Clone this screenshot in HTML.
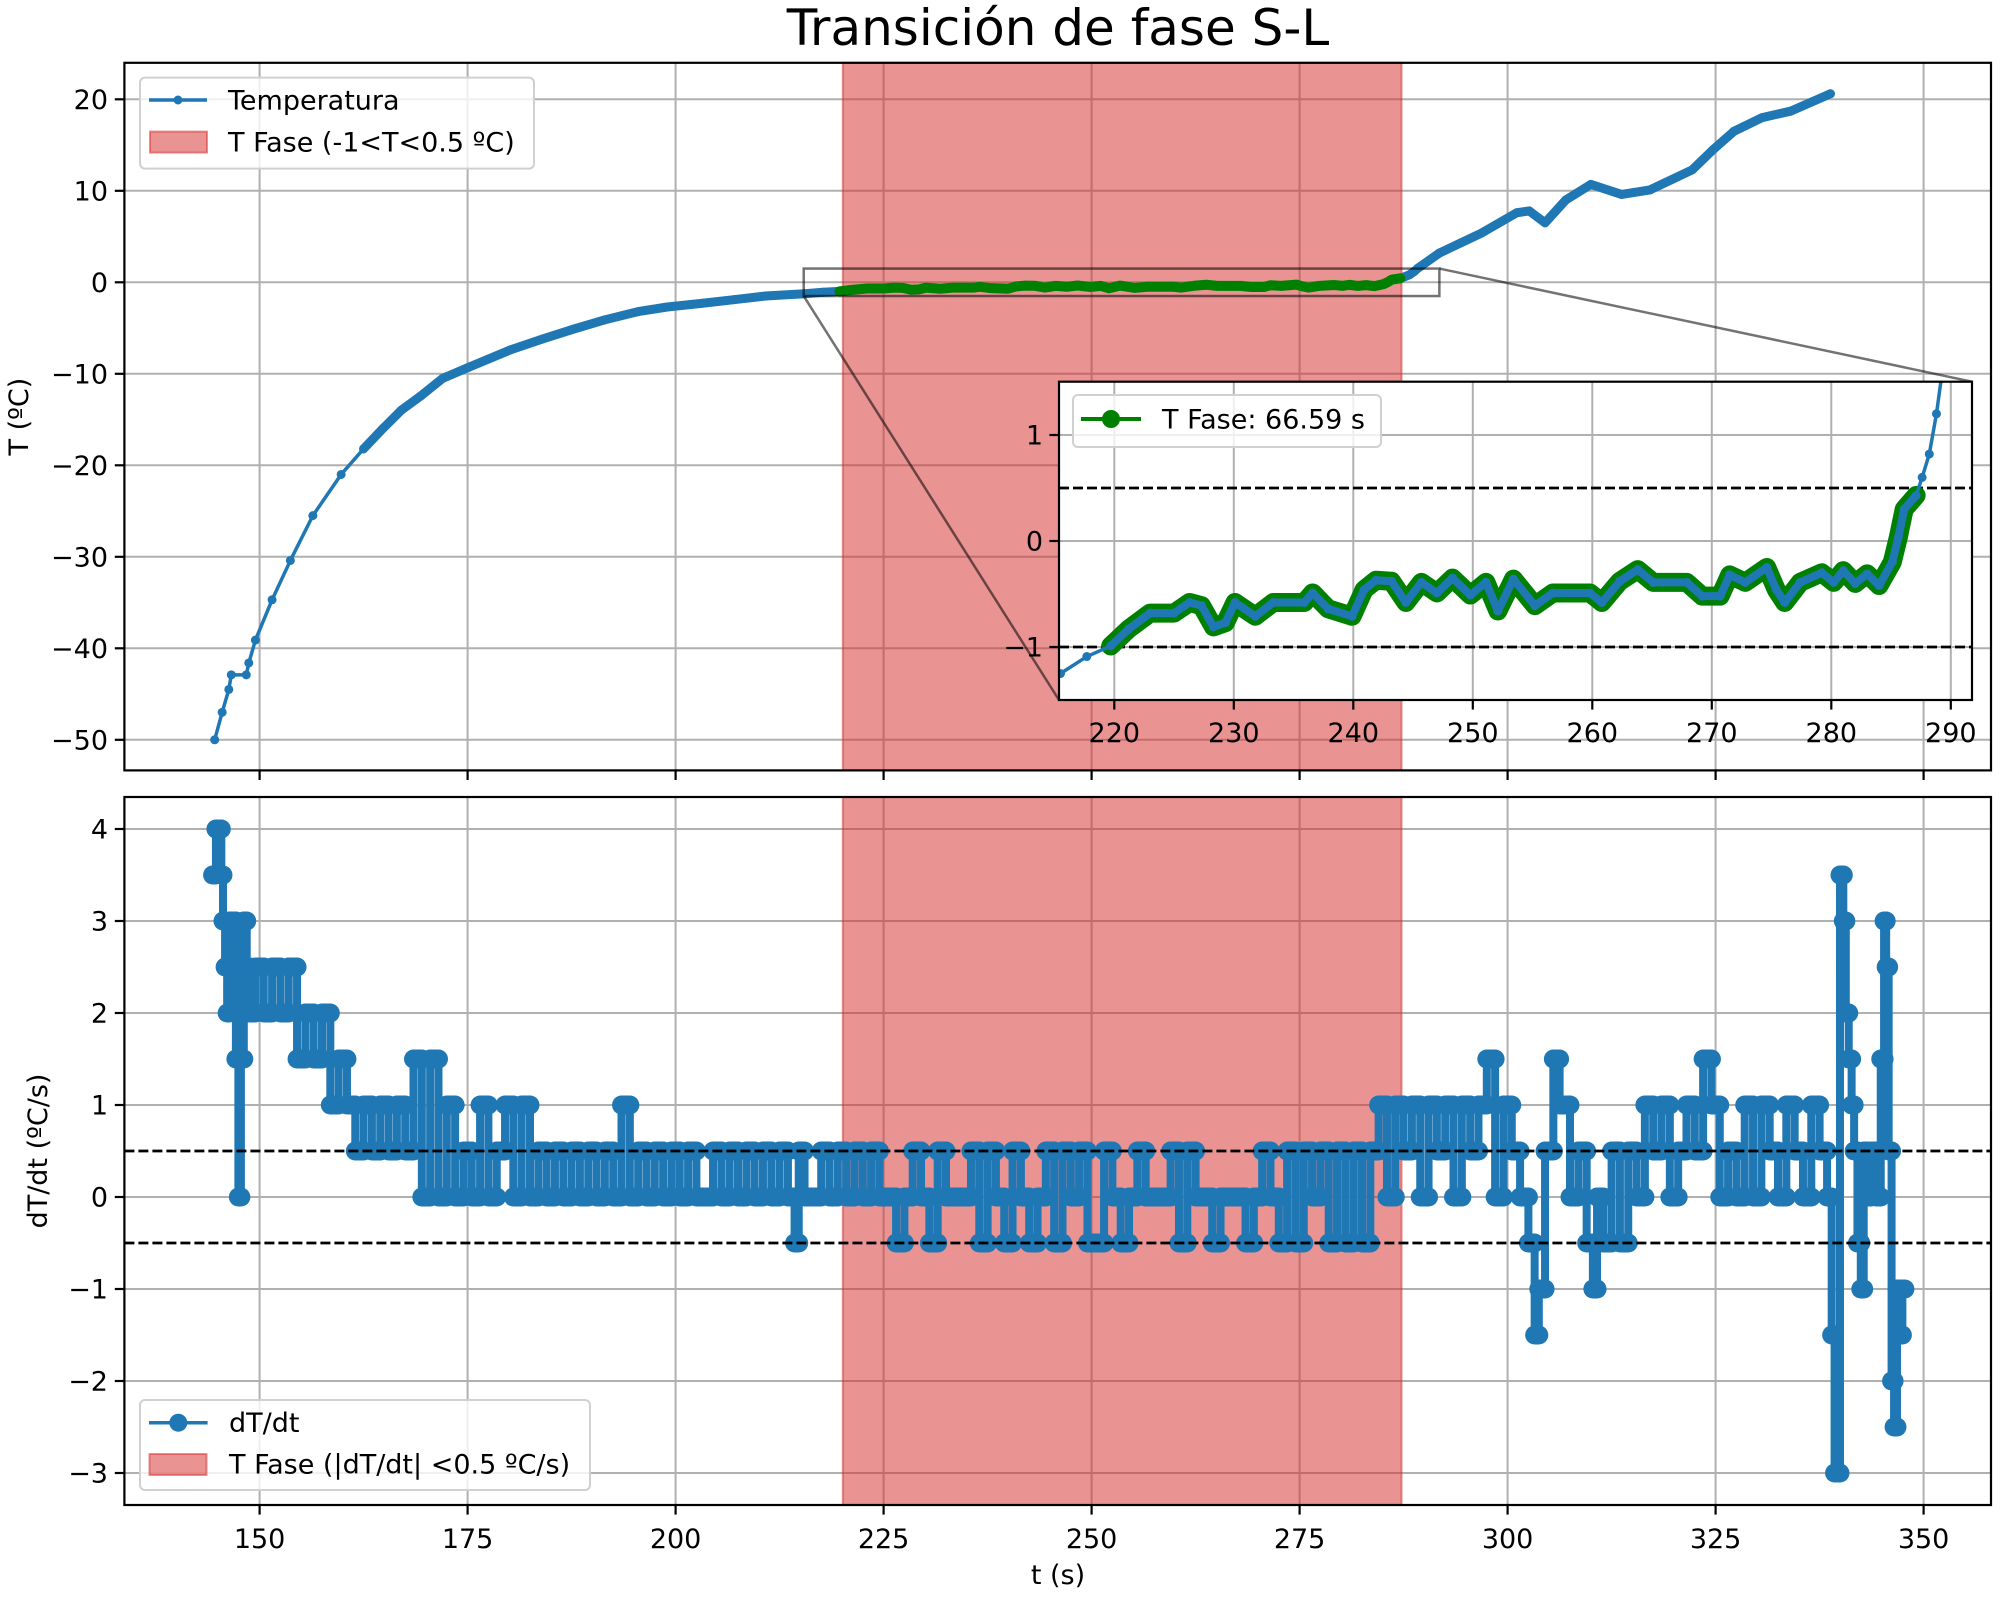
<!DOCTYPE html>
<html><head><meta charset="utf-8"><style>
html,body{margin:0;padding:0;background:#fff;width:2000px;height:1600px;overflow:hidden;}
svg{display:block;overflow:hidden;font-family:"DejaVu Sans","Liberation Sans",sans-serif;}
</style></head><body>
<svg id="fig" xmlns="http://www.w3.org/2000/svg" width="2000" height="1600" viewBox="0 0 2000 1600">
<defs>
<clipPath id="clipTop"><rect x="124.4" y="62.8" width="1866.6" height="707.6"/></clipPath>
<clipPath id="clipBot"><rect x="124.4" y="797" width="1866.6" height="708"/></clipPath>
<clipPath id="clipIn"><rect x="1059" y="381.7" width="913" height="318.3"/></clipPath>
</defs>
<text x="1058" y="45" font-size="50" text-anchor="middle">Transición de fase S-L</text>
</svg>
<script>
// ---------- data ----------
const tempTimes = [144.6,145.5,146.3,146.6,148.4,148.7,149.5,151.5,153.7,156.4,159.8,162.5,164.8,167,169.4,172,175.1,180.1,184,187.8,191.5,195.5,199,203.1,207,210.8,215.5,217.7,219.7,221.2,223,225,226.3,227.3,228.3,229.3,230.1,231.8,233.3,235.9,236.6,237.9,239.9,240.9,241.9,243.2,244.4,245.7,247,248.3,249.8,251.1,252.1,253.4,255.2,256.7,259.8,260.8,262.3,263.8,265.1,267.9,269.2,270.7,271.5,272.8,274.6,275.4,276.1,277.4,279.2,280.2,281,282,283,284,285.1,285.6,286.1,287.1,287.6,288.2,288.8,289.2,291.8,296.9,301.1,302.6,304.5,307,310,313.7,317.1,322.2,324.7,327.2,330.6,334,338.8];
const tempValues = [-50,-47,-44.5,-42.9,-42.9,-41.6,-39.1,-34.7,-30.4,-25.5,-21,-18.2,-16,-14,-12.4,-10.5,-9.3,-7.4,-6.2,-5.1,-4.1,-3.2,-2.7,-2.3,-1.9,-1.5,-1.25,-1.09,-0.99,-0.83,-0.68,-0.68,-0.58,-0.61,-0.81,-0.77,-0.58,-0.71,-0.58,-0.58,-0.49,-0.64,-0.71,-0.46,-0.37,-0.38,-0.58,-0.39,-0.49,-0.35,-0.51,-0.39,-0.66,-0.36,-0.61,-0.49,-0.49,-0.58,-0.38,-0.27,-0.39,-0.39,-0.52,-0.52,-0.32,-0.39,-0.25,-0.46,-0.58,-0.39,-0.30,-0.39,-0.28,-0.40,-0.31,-0.42,-0.20,0.03,0.30,0.43,0.60,0.82,1.2,1.53,3.2,5.4,7.6,7.8,6.5,9.0,10.7,9.6,10.1,12.3,14.5,16.5,18.0,18.7,20.6];
const phaseStart = 220.1;
const phaseEnd = 287.25;
const dtTimes = [
144.5,145,145.3,145.5,145.7,146,146.2,146.5,147,147.3,147.6,147.9,148.3,148.6,149,
150,151,152,153,154,155,156,157,158,159,160,161,162,163,164,165,166,167,168,169,170,171,172,173,174,175,176,177,178,179,180,181,182,183,
184,185,186,187,188,189,190,191,192,193,194,195,196,197,198,199,200,201,202,203,204,205,206,207,208,209,210,211,212,213,214,214.6,
215,216,217,218,219,220,221,222,223,224,225,226,227,228,229,230,231,232,233,234,235,236,237,238,239,240,241,242,243,244,245,246,247,248,249,
250,251,252,253,254,255,256,257,258,259,260,261,262,263,264,265,266,267,268,269,270,271,272,273,274,275,276,277,278,279,280,281,282,283,284,
285,286,287,288,289,290,291,292,293,294,295,296,297,298,299,300,301,302,303,303.5,304,305,306,306.5,307,308,309,310,310.5,311,
312,313,314,315,316,317,318,319,320,321,322,323,324,325,326,327,328,329,330,331,332,333,334,335,336,337,338,
338.8,339.1,339.5,339.7,340.2,340.5,340.8,341.2,341.5,341.8,342.3,342.6,343,343.4,344,344.6,345.1,345.4,345.6,346,346.3,346.6,347,347.3,347.6];
const dtValues = [
3.5,4,4,3.5,3,2.5,2,3,3,1.5,0,1.5,3,2.5,2,
2.5,2,2.5,2,2.5,1.5,2,1.5,2,1,1.5,1,0.5,1,0.5,1,0.5,1,0.5,1.5,0,1.5,0,1,0,0.5,0,1,0,0.5,1,0,1,0,
0.5,0,0.5,0,0.5,0,0.5,0,0.5,0,1,0,0.5,0,0.5,0,0.5,0,0.5,0,0,0.5,0,0.5,0,0.5,0,0.5,0,0.5,0,-0.5,
0.5,0,0,0.5,0,0.5,0,0.5,0,0.5,0,0,-0.5,0,0.5,0,-0.5,0.5,0,0,0,0.5,-0.5,0.5,0,-0.5,0.5,0,-0.5,0,0.5,-0.5,0.5,0,0.5,
-0.5,-0.5,0.5,0,-0.5,0,0.5,0,0,0,0.5,-0.5,0.5,0,0,-0.5,0,0,0,-0.5,0,0.5,0,-0.5,0.5,-0.5,0.5,0,0.5,-0.5,0.5,-0.5,0.5,-0.5,0.5,
1,0,1,0.5,1,0,1,0.5,1,0,1,0.5,1,1.5,0,1,0.5,0,-0.5,-1.5,-1,0.5,1.5,1,1,0,0.5,-0.5,-1,0,
-0.5,0.5,-0.5,0.5,0,1,0.5,1,0,0.5,1,0.5,1.5,1,0,0.5,0,1,0,1,0.5,0,1,0.5,0,1,0.5,
0,-1.5,-3,-3,3.5,3,2,1.5,1,0.5,-0.5,-1,0.5,0,0.5,0,1.5,3,2.5,0.5,-2,-2.5,-1,-1.5,-1];
const xTicks = [150,175,200,225,250,275,300,325,350];
const topYTicks = [-50,-40,-30,-20,-10,0,10,20];
const botYTicks = [-3,-2,-1,0,1,2,3,4];
const inXTicks = [220,230,240,250,260,270,280,290];
const inYTicks = [-1,0,1];
const phaseBand = [-1,0.5];
const rateBand = [-0.5,0.5];

// ---------- scales ----------
const X = t => 259.6 + (t-150)*8.32;
const YT = v => 282.3 - v*9.15;
const YB = v => 1197 - v*92;
const XI = t => 1114.3 + (t-220)*11.95;
const YI = v => 541 - v*106;
const inTMin = 215.4, inTMax = 291.8, inVMin = -1.5, inVMax = 1.5;

const NS = 'http://www.w3.org/2000/svg';
const svg = document.getElementById('fig');
function mk(tag, attrs, parent){ const e=document.createElementNS(NS,tag); for(const k in attrs) e.setAttribute(k,attrs[k]); (parent||svg).appendChild(e); return e; }
function fmt(v){ return v<0 ? '\u2212'+Math.abs(v) : String(v); }
const BLUE='#1f77b4', GREEN='#008000', GRID='#b0b0b0';

// ---------- top axes ----------
const gTop = mk('g',{});


for(const t of xTicks){ const l=mk('line',{x1:X(t),x2:X(t),y1:62.8,y2:770.4,stroke:GRID,'stroke-width':2},gTop);

 }
for(const v of topYTicks){ const l=mk('line',{x1:124.4,x2:1991,y1:YT(v),y2:YT(v),stroke:GRID,'stroke-width':2},gTop);

 }
const spanTop = mk('rect',{x:X(phaseStart),y:62.8,width:X(phaseEnd)-X(phaseStart),height:707.6,fill:'rgba(214,39,40,0.5)',stroke:'rgba(214,39,40,0.5)','stroke-width':2},gTop);


const cTop = mk('g',{'clip-path':'url(#clipTop)'},gTop);


const tempLine = mk('polyline',{points:tempTimes.map((t,i)=>X(t)+','+YT(tempValues[i])).join(' '),fill:'none',stroke:BLUE,'stroke-width':3.5,'stroke-linejoin':'round'},cTop);


const denseIdx = tempTimes.map((t,i)=>i).filter(i=>tempTimes[i]>=162);
const tempDense = mk('polyline',{points:denseIdx.map(i=>X(tempTimes[i])+','+YT(tempValues[i])).join(' '),fill:'none',stroke:BLUE,'stroke-width':9,'stroke-linejoin':'round','stroke-linecap':'round'},cTop);


tempTimes.forEach((t,i)=>{ const c=mk('circle',{cx:X(t),cy:YT(tempValues[i]),r:4.5,fill:BLUE},cTop);

 });
const phIdx = tempTimes.map((t,i)=>i).filter(i=>tempTimes[i]>=phaseStart-0.5 && tempTimes[i]<=phaseEnd);
const phaseMain = mk('polyline',{points:phIdx.map(i=>X(tempTimes[i])+','+YT(tempValues[i])).join(' '),fill:'none',stroke:GREEN,'stroke-width':10,'stroke-linejoin':'round','stroke-linecap':'round'},cTop);


const zr = mk('rect',{x:X(inTMin),y:YT(inVMax),width:X(inTMax)-X(inTMin),height:YT(inVMin)-YT(inVMax),fill:'none',stroke:'rgba(0,0,0,0.55)','stroke-width':2.5},gTop);


const cl1 = mk('line',{x1:X(inTMin),y1:YT(inVMin),x2:1059,y2:700,stroke:'rgba(0,0,0,0.55)','stroke-width':2.5},gTop);


const cl2 = mk('line',{x1:X(inTMax),y1:YT(inVMax),x2:1972,y2:381.7,stroke:'rgba(0,0,0,0.55)','stroke-width':2.5},gTop);


const frTop = mk('rect',{x:124.4,y:62.8,width:1866.6,height:707.6,fill:'none',stroke:'#000','stroke-width':2.2},gTop);


for(const t of xTicks){ const l=mk('line',{x1:X(t),x2:X(t),y1:770.4,y2:780,stroke:'#000','stroke-width':2.2},gTop);

 }
for(const v of topYTicks){ const l=mk('line',{x1:114.8,x2:124.4,y1:YT(v),y2:YT(v),stroke:'#000','stroke-width':2.2},gTop);


const tx=mk('text',{x:108,y:YT(v)+9.5,'font-size':27,'text-anchor':'end'},gTop); tx.textContent=fmt(v);

 }
const ylT = mk('text',{x:0,y:0,'font-size':27,'text-anchor':'middle',transform:'translate(28,416.6) rotate(-90)'},gTop); ylT.textContent='T (ºC)';


const lgT = mk('g',{},gTop);


const lgTb = mk('rect',{x:140,y:77.6,width:394,height:91,rx:5,fill:'rgba(255,255,255,0.8)',stroke:'#d0d0d0','stroke-width':2},lgT);


const lgT1 = mk('line',{x1:149,x2:207,y1:100,y2:100,stroke:BLUE,'stroke-width':3.5},lgT);


const lgT1c = mk('circle',{cx:178,cy:100,r:4.5,fill:BLUE},lgT);


const lgT1t = mk('text',{x:228,y:109.5,'font-size':27},lgT); lgT1t.textContent='Temperatura';


const lgT2 = mk('rect',{x:150,y:131.6,width:57,height:21,fill:'rgba(214,39,40,0.5)',stroke:'rgba(214,39,40,0.5)','stroke-width':2},lgT);


const lgT2t = mk('text',{x:228,y:151.5,'font-size':27},lgT); lgT2t.textContent='T Fase (-1<T<0.5 ºC)';



// ---------- inset ----------
const gIn = mk('g',{});


const inBg = mk('rect',{x:1059,y:381.7,width:913,height:318.3,fill:'#fff'},gIn);


for(const t of inXTicks){ const l=mk('line',{x1:XI(t),x2:XI(t),y1:381.7,y2:700,stroke:GRID,'stroke-width':2},gIn);

 }
for(const v of inYTicks){ const l=mk('line',{x1:1059,x2:1972,y1:YI(v),y2:YI(v),stroke:GRID,'stroke-width':2},gIn);

 }
const cIn = mk('g',{'clip-path':'url(#clipIn)'},gIn);


for(const v of phaseBand){ const l=mk('line',{x1:1059,x2:1972,y1:YI(v),y2:YI(v),stroke:'#000','stroke-width':2.8,'stroke-dasharray':'10,4'},cIn);

 }
const phIn = mk('polyline',{points:phIdx.map(i=>XI(tempTimes[i])+','+YI(tempValues[i])).join(' '),fill:'none',stroke:GREEN,'stroke-width':19,'stroke-linejoin':'round','stroke-linecap':'round'},cIn);


const tIn = mk('polyline',{points:tempTimes.map((t,i)=>XI(t)+','+YI(tempValues[i])).join(' '),fill:'none',stroke:BLUE,'stroke-width':3.5,'stroke-linejoin':'round'},cIn);


const tInD = mk('polyline',{points:phIdx.map(i=>XI(tempTimes[i])+','+YI(tempValues[i])).join(' '),fill:'none',stroke:BLUE,'stroke-width':8,'stroke-linejoin':'round','stroke-linecap':'round'},cIn);


tempTimes.forEach((t,i)=>{ const c=mk('circle',{cx:XI(t),cy:YI(tempValues[i]),r:4.5,fill:BLUE},cIn);

 });
const frIn = mk('rect',{x:1059,y:381.7,width:913,height:318.3,fill:'none',stroke:'#000','stroke-width':2.2},gIn);


for(const t of inXTicks){ const l=mk('line',{x1:XI(t),x2:XI(t),y1:700,y2:709.6,stroke:'#000','stroke-width':2.2},gIn);


const tx=mk('text',{x:XI(t),y:742,'font-size':27,'text-anchor':'middle'},gIn); tx.textContent=fmt(t);

 }
for(const v of inYTicks){ const l=mk('line',{x1:1049.4,x2:1059,y1:YI(v),y2:YI(v),stroke:'#000','stroke-width':2.2},gIn);


const tx=mk('text',{x:1043,y:YI(v)+9.5,'font-size':27,'text-anchor':'end'},gIn); tx.textContent=fmt(v);

 }
const lgI = mk('g',{},gIn);


const lgIb = mk('rect',{x:1073,y:395,width:308,height:52,rx:5,fill:'rgba(255,255,255,0.8)',stroke:'#d0d0d0','stroke-width':2},lgI);


const lgIl = mk('line',{x1:1081,x2:1141,y1:419,y2:419,stroke:GREEN,'stroke-width':4},lgI);


const lgIc = mk('circle',{cx:1111,cy:419,r:9,fill:GREEN},lgI);


const lgIt = mk('text',{x:1162,y:428.5,'font-size':27},lgI); lgIt.textContent='T Fase: 66.59 s';



// ---------- bottom axes ----------
const gBot = mk('g',{});


for(const t of xTicks){ const l=mk('line',{x1:X(t),x2:X(t),y1:797,y2:1505,stroke:GRID,'stroke-width':2},gBot);

 }
for(const v of botYTicks){ const l=mk('line',{x1:124.4,x2:1991,y1:YB(v),y2:YB(v),stroke:GRID,'stroke-width':2},gBot);

 }
const spanBot = mk('rect',{x:X(phaseStart),y:797,width:X(phaseEnd)-X(phaseStart),height:708,fill:'rgba(214,39,40,0.5)',stroke:'rgba(214,39,40,0.5)','stroke-width':2},gBot);


const cBot = mk('g',{'clip-path':'url(#clipBot)'},gBot);


let d = '';
dtTimes.forEach((t,i)=>{
  const prev = i>0 ? dtTimes[i-1] : t-0.3;
  const next = i<dtTimes.length-1 ? dtTimes[i+1] : t+0.3;
  const a = X((prev+t)/2), b = X((t+next)/2), y = YB(dtValues[i]);
  d += (i===0 ? 'M'+a+','+y : 'L'+a+','+y) + ' L'+b+','+y+' ';
});
const dtLine = mk('path',{d:d,fill:'none',stroke:BLUE,'stroke-width':8,'stroke-linejoin':'round'},cBot);


dtTimes.forEach((t,i)=>{
  const prev = i>0 ? dtTimes[i-1] : t-0.3;
  const next = i<dtTimes.length-1 ? dtTimes[i+1] : t+0.3;
  const y = YB(dtValues[i]);
  const c = mk('line',{x1:X((prev+t)/2),x2:X((t+next)/2),y1:y,y2:y,stroke:BLUE,'stroke-width':19,'stroke-linecap':'round'},cBot);
  
  
});
for(const v of rateBand){ const l=mk('line',{x1:124.4,x2:1991,y1:YB(v),y2:YB(v),stroke:'#000','stroke-width':2.8,'stroke-dasharray':'10,4'},cBot);

 }
const frBot = mk('rect',{x:124.4,y:797,width:1866.6,height:708,fill:'none',stroke:'#000','stroke-width':2.2},gBot);


for(const t of xTicks){ const l=mk('line',{x1:X(t),x2:X(t),y1:1505,y2:1514.6,stroke:'#000','stroke-width':2.2},gBot);


const tx=mk('text',{x:X(t),y:1548,'font-size':27,'text-anchor':'middle'},gBot); tx.textContent=fmt(t);

 }
for(const v of botYTicks){ const l=mk('line',{x1:114.8,x2:124.4,y1:YB(v),y2:YB(v),stroke:'#000','stroke-width':2.2},gBot);


const tx=mk('text',{x:108,y:YB(v)+9.5,'font-size':27,'text-anchor':'end'},gBot); tx.textContent=fmt(v);

 }
const ylB = mk('text',{x:0,y:0,'font-size':27,'text-anchor':'middle',transform:'translate(47,1151) rotate(-90)'},gBot); ylB.textContent='dT/dt (ºC/s)';


const xl = mk('text',{x:1058,y:1584,'font-size':27,'text-anchor':'middle'},gBot); xl.textContent='t (s)';


const lgB = mk('g',{},gBot);


const lgBb = mk('rect',{x:140,y:1400,width:450,height:90,rx:5,fill:'rgba(255,255,255,0.8)',stroke:'#d0d0d0','stroke-width':2},lgB);


const lgB1 = mk('line',{x1:149,x2:207.6,y1:1422.7,y2:1422.7,stroke:BLUE,'stroke-width':3.5},lgB);


const lgB1c = mk('circle',{cx:178.3,cy:1422.7,r:9,fill:BLUE},lgB);


const lgB1t = mk('text',{x:229,y:1432,'font-size':27},lgB); lgB1t.textContent='dT/dt';


const lgB2 = mk('rect',{x:149.5,y:1454,width:57,height:21,fill:'rgba(214,39,40,0.5)',stroke:'rgba(214,39,40,0.5)','stroke-width':2},lgB);


const lgB2t = mk('text',{x:229,y:1473.5,'font-size':27},lgB); lgB2t.textContent='T Fase (|dT/dt| <0.5 ºC/s)';


</script>
</body></html>
